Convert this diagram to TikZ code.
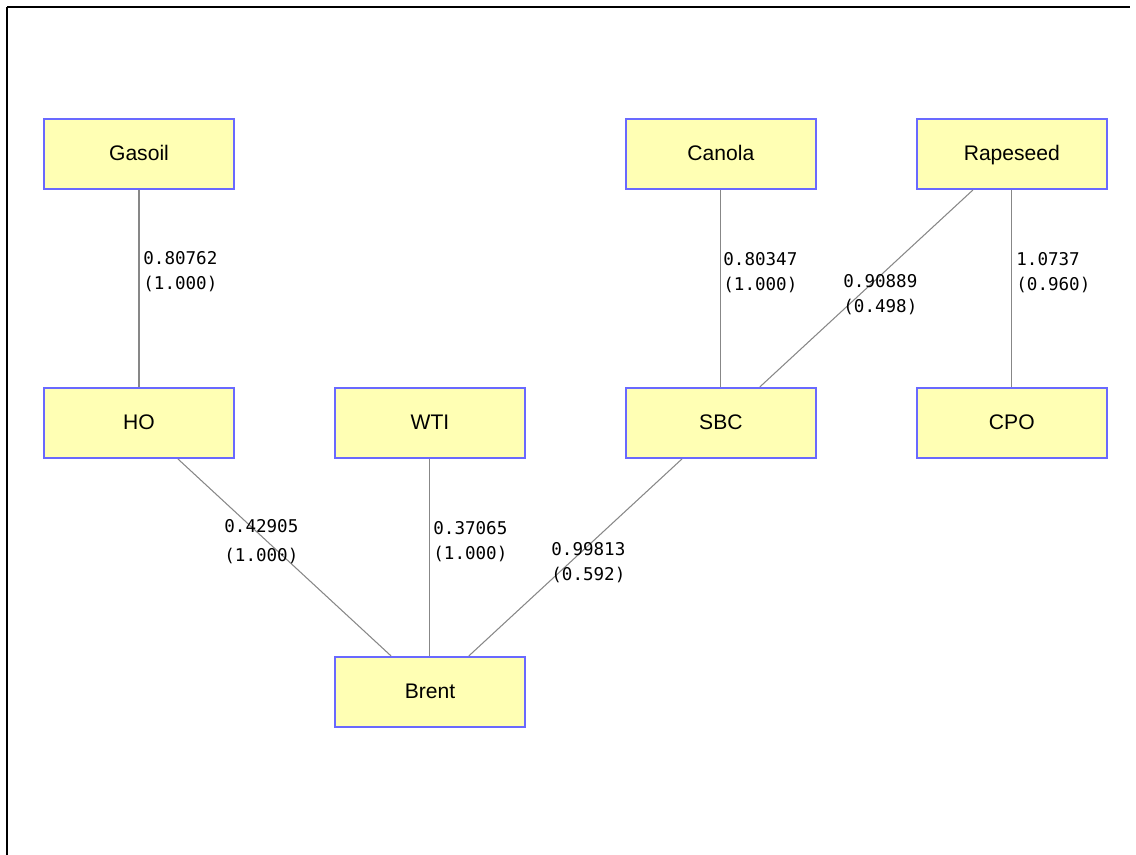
\documentclass[tikz,border=0pt]{standalone}
\usepackage{fontspec}
\setmainfont{Liberation Sans}
\newfontfamily\weightfont{DejaVu Sans Mono}
\usetikzlibrary{positioning}
\definecolor{boxfill}{RGB}{255, 255, 180}
\definecolor{boxline}{RGB}{105, 105, 255}
\definecolor{linkcolor}{RGB}{135, 135, 135}
\tikzset{
  market/.style={
    rectangle,
    minimum width=3.8cm, minimum height=1.4cm,
    text centered, font=\fontsize{12}{14}\selectfont,
    text height=0.8em, text depth=0.08em,
    fill=boxfill, draw=boxline, line width=1.1pt
  },
  link/.style={
    draw=linkcolor, line width=0.6pt
  },
  weight/.style={
    anchor=base west, inner sep=0pt, align=left,
    font=\weightfont\fontsize{10}{13.7}\selectfont
  },
  frame/.style={
    draw=black
  }
}

\begin{document}
\begin{tikzpicture}[x=0.02cm, y=-0.02cm, node distance={5.38cm and 5.82cm}, on grid]

  \useasboundingbox (0,0) rectangle (1136,855);

  % ── Frame ──────────────────────────────────────────────────
  \coordinate (ftl) at (7,7);
  \coordinate (ftr) at (1130,7);
  \coordinate (fbl) at (7,855);
  \draw[frame, line width=0.7pt] (ftl) -- (ftr);
  \draw[frame, line width=1.2pt] (ftl) -- (fbl);

  % ── Markets ────────────────────────────────────────────────
  \node[market] (gasoil) at (139,154) {Gasoil};
  \node[market, below=of gasoil]   (ho)       {HO};
  \node[market, right=of ho]       (wti)      {WTI};
  \node[market, right=of wti]      (sbc)      {SBC};
  \node[market, right=of sbc]      (cpo)      {CPO};
  \node[market, above=of sbc]      (canola)   {Canola};
  \node[market, above=of cpo]      (rapeseed) {Rapeseed};
  \node[market, below=of wti]      (brent)    {Brent};

  % ── Links ──────────────────────────────────────────────────
  \draw[link] (gasoil)   -- (ho);
  \draw[link] (canola)   -- (sbc);
  \draw[link] (rapeseed) -- (sbc);
  \draw[link] (rapeseed) -- (cpo);
  \draw[link] (ho)       -- (brent);
  \draw[link] (wti)      -- (brent);
  \draw[link] (sbc)      -- (brent);

  % ── Weights (anchored on the second line) ──────────────────
  \node[weight] (wgasoil)   at (143,289)  {0.80762\\(1.000)};
  \node[weight] (wcanola)   at (723,290)  {0.80347\\(1.000)};
  \node[weight] (wrapesbc)  at (843,312)  {0.90889\\(0.498)};
  \node[weight] (wrapecpo)  at (1016,290) {1.0737\\(0.960)};
  \node[weight] (whobrent)  at (224,561)  {0.42905\\[2.8pt](1.000)};
  \node[weight] (wwtibrent) at (433,559)  {0.37065\\(1.000)};
  \node[weight] (wsbcbrent) at (551,580)  {0.99813\\(0.592)};

\end{tikzpicture}
\end{document}
